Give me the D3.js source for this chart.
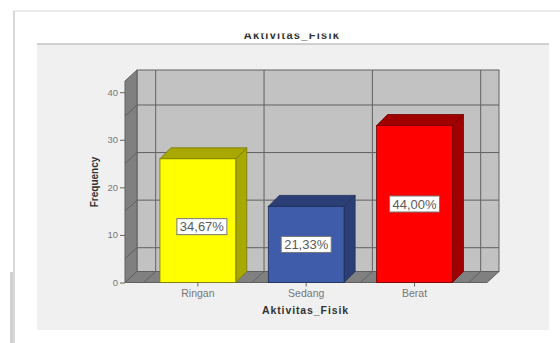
<!DOCTYPE html>
<html>
<head>
<meta charset="utf-8">
<script src="https://cdn.jsdelivr.net/npm/d3@7"></script>
<style>
  html, body { margin: 0; padding: 0; background: #fff; }
  svg { display: block; }
  text { font-family: "Liberation Sans", Arial, sans-serif; }
</style>
</head>
<body>
<svg id="chart" width="560" height="343"></svg>
<script>
const categories = ["Ringan", "Sedang", "Berat"];
const frequencies = [26, 16, 33];
const percentLabels = ["34,67%", "21,33%", "44,00%"];
const frontColors = ["#ffff00", "#3f5cab", "#ff0000"];
const shadeColors = ["#a8a800", "#2b3f76", "#a00000"];
const edgeColors = ["#77770a", "#1f2d55", "#700000"];
const yTicks = [0, 10, 20, 30, 40];
const gridValues = [5, 15, 25, 35];
const chartTitle = "Aktivitas_Fisik";
const yTitle = "Frequency";

const svg = d3.select("#chart");

// Frame of the output pane and the grey chart panel
svg.append("rect").attr("x", 37).attr("y", 44).attr("width", 512).attr("height", 286).attr("fill", "#f0f0f0");
svg.append("line").attr("x1", 37).attr("x2", 549).attr("y1", 44).attr("y2", 44).attr("stroke", "#a8a8a8").attr("stroke-width", 1.2);
svg.append("line").attr("x1", 13).attr("x2", 560).attr("y1", 11).attr("y2", 11).attr("stroke", "#e6e6e6").attr("stroke-width", 1.6);
svg.append("line").attr("x1", 14).attr("x2", 14).attr("y1", 11).attr("y2", 343).attr("stroke", "#d8d8d8").attr("stroke-width", 2);
svg.append("line").attr("x1", 11.5).attr("x2", 11.5).attr("y1", 272).attr("y2", 343).attr("stroke", "#d0d0d0").attr("stroke-width", 3);

// Scales
const depthX = 12, depthY = -11;
const left = 125, right = 487, axisTop = 81;
const y = d3.scaleLinear().domain([0, 40]).range([282.5, 92.2]);
const x = d3.scaleBand().domain(categories).range([143.7, 468.7]).paddingInner(0.3).paddingOuter(0.15);
const base = y(0);
const boundaries = categories.map(c => x(c) - x.step() * 0.15).concat([x(categories[2]) + x.bandwidth() + x.step() * 0.15]);
const gridStroke = "#606060";

const poly = pts => pts.map(p => p.join(",")).join(" ");

// Back wall, side wall and floor of the 3-D box
svg.append("rect").attr("x", left + depthX).attr("y", axisTop + depthY)
  .attr("width", right - left).attr("height", base - axisTop)
  .attr("fill", "#c2c2c2").attr("stroke", gridStroke);
svg.append("polygon")
  .attr("points", poly([[left, axisTop], [left + depthX, axisTop + depthY], [left + depthX, base + depthY], [left, base]]))
  .attr("fill", "#808080").attr("stroke", gridStroke);
svg.append("polygon")
  .attr("points", poly([[left, base], [left + depthX, base + depthY], [right + depthX, base + depthY], [right, base]]))
  .attr("fill", "#808080").attr("stroke", gridStroke);

// Gridlines folded across the walls and the floor
const grid = svg.append("g").attr("fill", "none").attr("stroke", gridStroke).attr("stroke-width", 1);
gridValues.forEach(t => {
  grid.append("polyline").attr("points", poly([
    [left, y(t)], [left + depthX, y(t) + depthY], [right + depthX, y(t) + depthY]
  ]));
});
boundaries.forEach(b => {
  grid.append("polyline").attr("points", poly([
    [b, base], [b + depthX, base + depthY], [b + depthX, axisTop + depthY]
  ]));
});

// Bars: front face, top and right side
const bars = svg.append("g").selectAll("g").data(categories).join("g")
  .attr("stroke", (c, i) => edgeColors[i]).attr("stroke-width", 0.8);
bars.append("polygon")
  .attr("points", (c, i) => {
    const x1 = x(c) + x.bandwidth(), yT = y(frequencies[i]);
    return poly([[x1, yT], [x1 + 11, yT - 11], [x1 + 11, base - 11], [x1, base]]);
  })
  .attr("fill", (c, i) => shadeColors[i]);
bars.append("polygon")
  .attr("points", (c, i) => {
    const x0 = x(c), x1 = x0 + x.bandwidth(), yT = y(frequencies[i]);
    return poly([[x0, yT], [x0 + 11, yT - 11], [x1 + 11, yT - 11], [x1, yT]]);
  })
  .attr("fill", (c, i) => shadeColors[i]);
bars.append("rect")
  .attr("x", c => x(c)).attr("width", x.bandwidth())
  .attr("y", (c, i) => y(frequencies[i]))
  .attr("height", (c, i) => base - y(frequencies[i]))
  .attr("fill", (c, i) => frontColors[i]);

// Percentage call-outs; the first one sits slightly off the bar's centre
const labelShift = [[4, 6], [0, 0], [0, 0]];
const labels = svg.append("g").selectAll("g").data(categories).join("g")
  .attr("transform", (c, i) => {
    const cx = x(c) + x.bandwidth() / 2 + labelShift[i][0];
    const cy = (y(frequencies[i]) + base) / 2 + labelShift[i][1];
    return `translate(${cx},${cy})`;
  });
labels.append("rect").attr("x", -25).attr("y", -8).attr("width", 50).attr("height", 16)
  .attr("fill", "#fff").attr("stroke", "#777").attr("stroke-width", 1);
labels.append("text").attr("text-anchor", "middle").attr("y", 4.6)
  .attr("font-size", 13).attr("fill", "#5a5a5a")
  .text((c, i) => percentLabels[i]);

// Axes
const axisFont = '"Liberation Sans", Arial, sans-serif';
const yAxis = svg.append("g").attr("transform", `translate(${left},0)`)
  .call(d3.axisLeft(y).tickValues(yTicks).tickSize(5).tickPadding(2));
yAxis.select(".domain").remove();
yAxis.selectAll("line").attr("stroke", "#666");
yAxis.selectAll("text").attr("font-size", 9.5).attr("fill", "#777").style("font-family", axisFont);

const xAxis = svg.append("g").attr("transform", `translate(0,${base})`)
  .call(d3.axisBottom(x).tickSize(4).tickPadding(3));
xAxis.select(".domain").remove();
xAxis.selectAll("line").attr("stroke", "#666");
xAxis.selectAll("text").attr("font-size", 10.5).attr("fill", "#777").style("font-family", axisFont);

// Titles; the chart title is cut off by the top edge of its band
svg.append("clipPath").attr("id", "titleBand").append("rect")
  .attr("x", 200).attr("y", 33.5).attr("width", 200).attr("height", 10);
svg.append("text").attr("clip-path", "url(#titleBand)")
  .attr("x", 292).attr("y", 38.5).attr("text-anchor", "middle")
  .attr("font-size", 11).attr("font-weight", "bold").attr("letter-spacing", 1.3).attr("fill", "#333")
  .text(chartTitle);
svg.append("text")
  .attr("transform", "translate(98,182) rotate(-90)").attr("text-anchor", "middle")
  .attr("font-size", 10).attr("font-weight", "bold").attr("fill", "#333")
  .text(yTitle);
svg.append("text")
  .attr("x", 305.5).attr("y", 313.5).attr("text-anchor", "middle")
  .attr("font-size", 10.5).attr("font-weight", "bold").attr("letter-spacing", 0.9).attr("fill", "#333")
  .text(chartTitle);
</script>
</body>
</html>
